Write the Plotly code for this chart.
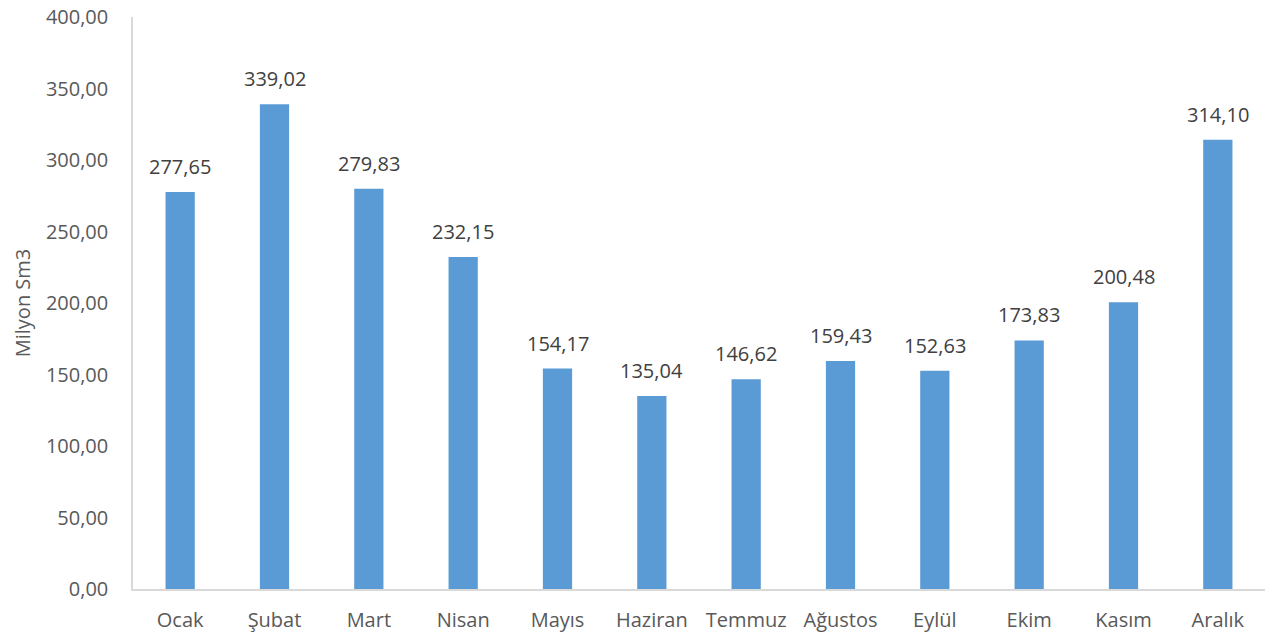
import plotly.graph_objects as go

months = ["Ocak", "Şubat", "Mart", "Nisan", "Mayıs", "Haziran", "Temmuz",
          "Ağustos", "Eylül", "Ekim", "Kasım", "Aralık"]
values = [277.65, 339.02, 279.83, 232.15, 154.17, 135.04, 146.62,
          159.43, 152.63, 173.83, 200.48, 314.10]
y_ticks = [0, 50, 100, 150, 200, 250, 300, 350, 400]

fig = go.Figure(go.Bar(
    x=months, y=values,
    marker=dict(color="#5B9BD5", line=dict(width=0)),
    hovertemplate="%{x}: %{y:.2f}<extra></extra>",
))

for m, v in zip(months, values):
    fig.add_annotation(
        x=m, y=v, text=f"{v:.2f}".replace(".", ","),
        showarrow=False, yanchor="bottom", yshift=10,
        font=dict(family="Open Sans", size=20, color="#404040"),
    )

fig.update_layout(
    width=1275, height=639,
    margin=dict(l=133, r=10, t=17, b=50),
    plot_bgcolor="white", paper_bgcolor="white",
    separators=",.",
    bargap=0.69,
    showlegend=False,
    font=dict(family="Open Sans", size=20, color="#595959"),
)
fig.update_yaxes(
    range=[0, 400], tickvals=y_ticks, tickformat=".2f",
    showgrid=False, zeroline=False, automargin=False,
    showline=True, linecolor="#D9D9D9", linewidth=1.5,
    ticks="outside", ticklen=19, tickcolor="rgba(0,0,0,0)",
    tickfont=dict(size=20, color="#595959"),
    title=dict(text="Milyon Sm3", font=dict(size=20, color="#595959"), standoff=10),
)
fig.update_xaxes(
    showgrid=False, showline=True, linecolor="#D9D9D9", linewidth=1.5,
    automargin=False,
    ticks="outside", ticklen=12, tickcolor="rgba(0,0,0,0)",
    tickfont=dict(size=20, color="#595959"),
)

fig.write_html("out.html", config={"displayModeBar": False},
               post_script="document.body.style.margin='0';")
